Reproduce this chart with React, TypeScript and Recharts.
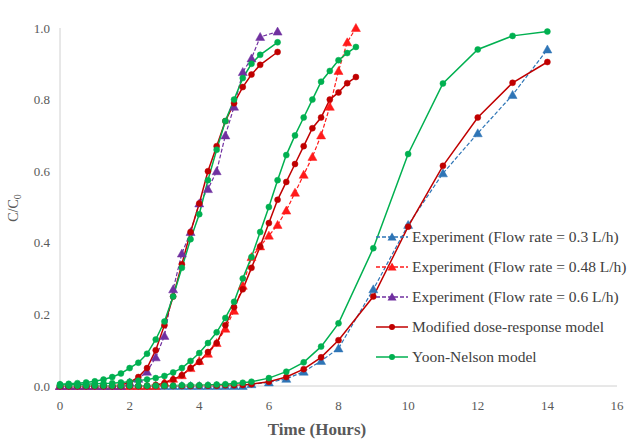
import { Label, Legend, Line, LineChart, XAxis, YAxis } from "recharts";

// time (h) and C/C0 values
const T_03 = [
  0, 0.25, 0.5, 0.75, 1, 1.25, 1.5, 1.75, 2, 2.25, 2.5, 2.75, 3, 3.25, 3.5,
  3.75, 4, 4.25, 4.5, 4.75, 5, 5.25, 5.5, 6, 6.5, 7, 7.5, 8, 9, 10, 11, 12, 13,
  14
];
const EXP_03 = [
  0, 0, 0, 0, 0, 0, 0, 0, 0, 0, 0, 0, 0, 0, 0, 0, 0, 0, 0, 0, 0, 0, 0.005, 0.01,
  0.02, 0.04, 0.07, 0.105, 0.27, 0.45, 0.594, 0.706, 0.813, 0.94
];
const MDR_03 = [
  0, 0, 0, 0, 0, 0, 0, 0, 0, 0, 0, 0, 0, 0, 0, 0, 0.001, 0.001, 0.001, 0.002,
  0.002, 0.003, 0.005, 0.012, 0.025, 0.047, 0.08, 0.128, 0.25, 0.445, 0.615,
  0.75, 0.847, 0.905
];
const YN_03 = [
  0.001, 0.001, 0.001, 0.001, 0.001, 0.001, 0.001, 0.001, 0.001, 0.001, 0.001,
  0.001, 0.001, 0.001, 0.002, 0.002, 0.002, 0.003, 0.004, 0.005, 0.007, 0.009,
  0.012, 0.022, 0.04, 0.066, 0.11, 0.175, 0.385, 0.648, 0.845, 0.94, 0.978,
  0.99
];

const T_048 = [
  0, 0.25, 0.5, 0.75, 1, 1.25, 1.5, 1.75, 2, 2.25, 2.5, 2.75, 3, 3.25, 3.5,
  3.75, 4, 4.25, 4.5, 4.75, 5, 5.25, 5.5, 5.75, 6, 6.25, 6.5, 6.75, 7, 7.25,
  7.5, 7.75, 8, 8.25, 8.5
];
const EXP_048 = [
  0, 0, 0, 0, 0, 0, 0, 0, 0, 0, 0, 0, 0.01, 0.02, 0.03, 0.05, 0.07, 0.09, 0.12,
  0.16, 0.21, 0.28, 0.36, 0.39, 0.42, 0.45, 0.49, 0.54, 0.59, 0.64, 0.7, 0.78,
  0.88, 0.96, 1.0
];
const MDR_048 = [
  0, 0, 0, 0, 0, 0, 0, 0, 0, 0, 0, 0.003, 0.008, 0.018, 0.03, 0.05, 0.067,
  0.095, 0.12, 0.17, 0.22, 0.27, 0.33, 0.39, 0.455, 0.52, 0.57, 0.62, 0.67,
  0.72, 0.75, 0.8, 0.82, 0.846, 0.863
];
const YN_048 = [
  0.003, 0.003, 0.004, 0.005, 0.006, 0.007, 0.008, 0.01, 0.012, 0.015, 0.018,
  0.022, 0.028, 0.038, 0.05, 0.07, 0.092, 0.12, 0.15, 0.19, 0.235, 0.3, 0.36,
  0.43, 0.5, 0.575, 0.645, 0.7, 0.75, 0.8, 0.85, 0.88, 0.91, 0.93, 0.947
];

const T_06 = [
  0, 0.25, 0.5, 0.75, 1, 1.25, 1.5, 1.75, 2, 2.25, 2.5, 2.75, 3, 3.25, 3.5,
  3.75, 4, 4.25, 4.5, 4.75, 5, 5.25, 5.5, 5.75, 6.25
];
const EXP_06 = [
  0, 0, 0, 0, 0, 0, 0, 0, 0.01, 0.02, 0.04, 0.08, 0.14, 0.27, 0.37, 0.43, 0.51,
  0.55, 0.6, 0.7, 0.78, 0.877, 0.915, 0.975, 0.99
];
const MDR_06 = [
  0, 0, 0, 0, 0, 0, 0, 0.003, 0.01, 0.025, 0.05, 0.1, 0.17, 0.25, 0.34, 0.43,
  0.51, 0.6, 0.67, 0.74, 0.79, 0.835, 0.87, 0.897, 0.933
];
const YN_06 = [
  0.005, 0.006, 0.008, 0.01, 0.013, 0.018, 0.025, 0.035, 0.05, 0.065, 0.09,
  0.13, 0.18, 0.25, 0.33, 0.41, 0.48, 0.575, 0.66, 0.74, 0.8, 0.86, 0.9, 0.925,
  0.96
];

const X_TICKS = [0, 2, 4, 6, 8, 10, 12, 14, 16];
const Y_TICKS = [0, 0.2, 0.4, 0.6, 0.8, 1.0];

const NAME_EXP_03 = "Experiment (Flow rate = 0.3 L/h)";
const NAME_EXP_048 = "Experiment (Flow rate = 0.48 L/h)";
const NAME_EXP_06 = "Experiment (Flow rate = 0.6 L/h)";
const NAME_MDR = "Modified dose-response model";
const NAME_YN = "Yoon-Nelson model";

const BLUE = "#2e75b6";
const RED = "#ff1a1a";
const PURPLE = "#7030a0";
const DARK_RED = "#c00000";
const GREEN = "#00b050";

const SERIF =
  "'Liberation Serif', 'Times New Roman', Tinos, 'DejaVu Serif', serif";
const AXIS_STROKE = "#d0d0d0";
const TICK = { fill: "#595959", fontSize: 13, fontFamily: SERIF };

const rows = (t: number[], c: number[]) => t.map((x, i) => ({ t: x, c: c[i] }));

function triangleDot(color: string) {
  return (props: any) => {
    const { cx, cy, index } = props;
    if (cx == null || cy == null) return <g key={index} />;
    return (
      <path
        key={index}
        d={`M${cx},${cy - 4.5}L${cx + 4.5},${cy + 3.5}L${cx - 4.5},${cy + 3.5}Z`}
        fill={color}
        stroke={color}
        strokeWidth={0.5}
      />
    );
  };
}

const circleDot = (color: string) => ({
  r: 3,
  fill: color,
  stroke: color,
  strokeWidth: 0.5
});

const LEGEND_ITEMS = [
  { name: NAME_EXP_03, color: BLUE, dashed: true, tri: true },
  { name: NAME_EXP_048, color: RED, dashed: true, tri: true },
  { name: NAME_EXP_06, color: PURPLE, dashed: true, tri: true },
  { name: NAME_MDR, color: DARK_RED, dashed: false, tri: false },
  { name: NAME_YN, color: GREEN, dashed: false, tri: false }
];

function renderLegend() {
  return (
    <div style={{ fontFamily: SERIF, fontSize: 15.5, color: "#404040" }}>
      {LEGEND_ITEMS.map((item) => (
        <div
          key={item.name}
          style={{ display: "flex", alignItems: "center", height: 30 }}
        >
          <svg width={36} height={14} style={{ marginRight: 2 }}>
            <line
              x1={2}
              y1={7}
              x2={34}
              y2={7}
              stroke={item.color}
              strokeWidth={1.5}
              strokeDasharray={item.dashed ? "4 2" : undefined}
            />
            {item.tri ? (
              <path d="M18,2.5L22.5,10.5L13.5,10.5Z" fill={item.color} />
            ) : (
              <circle cx={18} cy={7} r={3} fill={item.color} />
            )}
          </svg>
          <span style={{ whiteSpace: "nowrap" }}>{item.name}</span>
        </div>
      ))}
    </div>
  );
}

export default function App() {
  return (
    <div
      style={{
        position: "absolute",
        left: 0,
        top: 0,
        width: 627,
        height: 442,
        background: "#fff",
        fontFamily: SERIF
      }}
    >
      <LineChart
        width={627}
        height={442}
        margin={{ top: 28, right: 10, left: 0, bottom: 0 }}
        style={{ fontFamily: SERIF }}
      >
        <XAxis
          type="number"
          dataKey="t"
          domain={[0, 16]}
          ticks={X_TICKS}
          tick={TICK}
          tickLine={false}
          tickMargin={9}
          axisLine={{ stroke: AXIS_STROKE }}
          height={56}
        >
          <Label
            content={() => (
              <text
                x={317}
                y={435}
                textAnchor="middle"
                fontFamily={SERIF}
                fontSize={17}
                fontWeight="bold"
                fill="#595959"
              >
                Time (Hours)
              </text>
            )}
          />
        </XAxis>
        <YAxis
          type="number"
          domain={[0, 1]}
          ticks={Y_TICKS}
          tickFormatter={(v: number) => v.toFixed(1)}
          tick={TICK}
          tickLine={false}
          tickMargin={4}
          axisLine={{ stroke: AXIS_STROKE }}
          width={60}
        >
          <Label
            content={() => (
              <text
                x={0}
                y={0}
                transform="translate(18,208) rotate(-90)"
                textAnchor="middle"
                fontFamily={SERIF}
                fontSize={14}
                fill="#595959"
              >
                C/C
                <tspan fontSize={10} dy={3}>
                  0
                </tspan>
              </text>
            )}
          />
        </YAxis>
        <Legend
          layout="horizontal"
          verticalAlign="middle"
          align="center"
          content={renderLegend}
          wrapperStyle={{ left: 374, top: 222, width: 260, height: 150 }}
        />

        <Line
          data={rows(T_03, EXP_03)}
          dataKey="c"
          name={NAME_EXP_03}
          stroke={BLUE}
          strokeWidth={1.2}
          strokeDasharray="4 2"
          dot={triangleDot(BLUE)}
          activeDot={false}
          isAnimationActive={false}
        />
        <Line
          data={rows(T_048, EXP_048)}
          dataKey="c"
          name={NAME_EXP_048}
          stroke={RED}
          strokeWidth={1.2}
          strokeDasharray="4 2"
          dot={triangleDot(RED)}
          activeDot={false}
          isAnimationActive={false}
        />
        <Line
          data={rows(T_06, EXP_06)}
          dataKey="c"
          name={NAME_EXP_06}
          stroke={PURPLE}
          strokeWidth={1.2}
          strokeDasharray="4 2"
          dot={triangleDot(PURPLE)}
          activeDot={false}
          isAnimationActive={false}
        />

        <Line
          data={rows(T_03, MDR_03)}
          dataKey="c"
          name={NAME_MDR}
          stroke={DARK_RED}
          strokeWidth={1.5}
          dot={circleDot(DARK_RED)}
          activeDot={false}
          isAnimationActive={false}
        />
        <Line
          data={rows(T_048, MDR_048)}
          dataKey="c"
          name={NAME_MDR + " 0.48"}
          legendType="none"
          stroke={DARK_RED}
          strokeWidth={1.5}
          dot={circleDot(DARK_RED)}
          activeDot={false}
          isAnimationActive={false}
        />
        <Line
          data={rows(T_06, MDR_06)}
          dataKey="c"
          name={NAME_MDR + " 0.6"}
          legendType="none"
          stroke={DARK_RED}
          strokeWidth={1.5}
          dot={circleDot(DARK_RED)}
          activeDot={false}
          isAnimationActive={false}
        />

        <Line
          data={rows(T_03, YN_03)}
          dataKey="c"
          name={NAME_YN}
          stroke={GREEN}
          strokeWidth={1.5}
          dot={circleDot(GREEN)}
          activeDot={false}
          isAnimationActive={false}
        />
        <Line
          data={rows(T_048, YN_048)}
          dataKey="c"
          name={NAME_YN + " 0.48"}
          legendType="none"
          stroke={GREEN}
          strokeWidth={1.5}
          dot={circleDot(GREEN)}
          activeDot={false}
          isAnimationActive={false}
        />
        <Line
          data={rows(T_06, YN_06)}
          dataKey="c"
          name={NAME_YN + " 0.6"}
          legendType="none"
          stroke={GREEN}
          strokeWidth={1.5}
          dot={circleDot(GREEN)}
          activeDot={false}
          isAnimationActive={false}
        />
      </LineChart>
    </div>
  );
}
